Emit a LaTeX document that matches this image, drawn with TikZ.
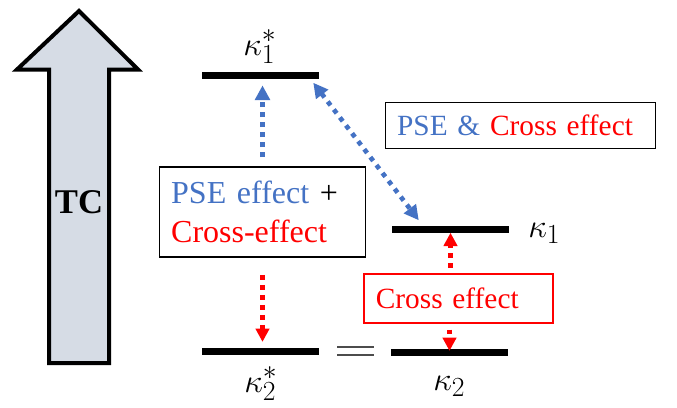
\documentclass[tikz,border=0pt]{standalone}
\usepackage{fontspec}
\setmainfont{Liberation Serif}
\usetikzlibrary{arrows.meta,calc}
\definecolor{pseblue}{RGB}{68,114,196}
\definecolor{tcgray}{RGB}{214,220,229}
\tikzset{
  level/.style={fill=black,inner sep=0pt,minimum width=87.75pt,minimum height=5.25pt},
  kap/.style={inner sep=0pt,anchor=base west,font=\fontsize{30}{36}\selectfont},
  effbox/.style={draw,line width=0.9pt,inner xsep=9pt,align=left},
  blueflow/.style={pseblue,line width=3.5pt,dash pattern=on 3.5pt off 4pt,-{Triangle[width=11pt,length=11pt]}},
  redflow/.style={red,line width=3.5pt,dash pattern=on 3.5pt off 4pt,-{Triangle[width=10pt,length=10pt]}}
}
\begin{document}
\begin{tikzpicture}[x=0.75pt,y=-0.75pt]
\useasboundingbox (0,0) rectangle (677,407);

% temperature arrow
\draw[line width=3pt,fill=tcgray,miter limit=10] (49,363) -- (49,69.5) -- (17,69.5) -- (79,11)
  -- (138,69.5) -- (109,69.5) -- (109,363) -- cycle;
\node[font=\rmfamily\bfseries\fontsize{26}{30}\selectfont] (tc) at (79,202) {TC};

\node[level] (k1s) at (260.5,75) {};
\node[level] (k1) at (450.5,229) {};
\node[level] (k2s) at (260.5,351) {};
\node[level] (k2) at (449.5,352) {};

\node[kap] (k1slab) at (243,55) {$\kappa_1^*$};
\node[kap] (k1lab) at (528,237) {$\kappa_1$};
\node[kap] (k2slab) at (244,392) {$\kappa_2^*$};
\node[kap] (k2lab) at (433,390) {$\kappa_2$};

\draw[line width=0.8pt,black!70] (337,347) -- (374,347) (337,355) -- (374,355);

\node[effbox,text width=137pt,minimum height=67.5pt,font=\rmfamily\fontsize{24}{29}\selectfont] (both) at (262.5,212)
  {\textcolor{pseblue}{PSE effect} +\\ \textcolor{red}{Cross-effect}};
\node[effbox,text width=185pt,minimum height=35pt,font=\rmfamily\fontsize{22}{26}\selectfont] (amp) at (520.5,125.5)
  {\textcolor{pseblue}{PSE \&} \textcolor{red}{Cross effect}};
\node[effbox,draw=red,line width=1.5pt,text=red,text width=124pt,minimum height=37pt,font=\rmfamily\fontsize{22}{26}\selectfont] (cross) at (458.5,298.5)
  {Cross effect};

\draw[blueflow,shorten <=7pt,shorten >=5pt] (both.north) -- (both.north |- k1s.south);
\draw[blueflow,{Triangle[width=11pt,length=11pt]}-{Triangle[width=11pt,length=11pt]}]
  ($(k1s.south east)+(-6,4)$) -- ($(k1.north west)+(27,-5)$);
\draw[redflow,shorten <=4pt] (cross.north -| k1.south) -- (k1.south);
\draw[redflow,shorten <=4pt,shorten >=-2pt] (cross.south -| k2.north) -- (k2.north);
\draw[redflow,shorten <=13pt,shorten >=4pt] (both.south) -- (both.south |- k2s.north);
\end{tikzpicture}
\end{document}
